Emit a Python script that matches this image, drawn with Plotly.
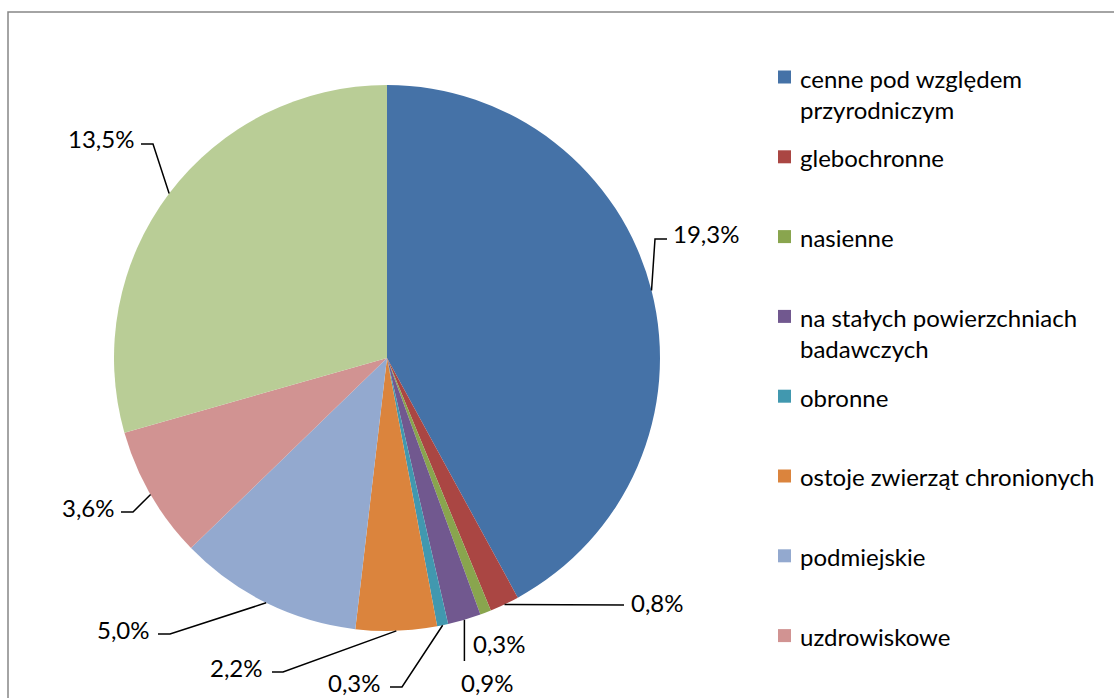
import math
import plotly.graph_objects as go

# Forest categories and their shares (%)
categories = [
    "cenne pod względem<br>przyrodniczym",
    "glebochronne",
    "nasienne",
    "na stałych powierzchniach<br>badawczych",
    "obronne",
    "ostoje zwierząt chronionych",
    "podmiejskie",
    "uzdrowiskowe",
    "wodochronne",
]
shares = [19.3, 0.8, 0.3, 0.9, 0.3, 2.2, 5.0, 3.6, 13.5]
colors = ["#4572A7", "#AA4643", "#89A54E", "#71588F", "#4198AF",
          "#DB843D", "#93A9CF", "#D19392", "#B9CD96"]

W, H = 1114, 698
FONT = "Lato"
FS = 24

# pie geometry in pixels
CX, CY, R = 387, 358, 273


def px(x, y):
    return x / W, 1 - y / H


def pct(v):
    return f"{v:.1f}%".replace(".", ",")


fig = go.Figure(go.Pie(
    labels=[c.replace("<br>", " ") for c in categories],
    values=shares,
    sort=False,
    direction="clockwise",
    rotation=0,
    marker=dict(colors=colors, line=dict(width=0)),
    textinfo="none",
    hoverinfo="label+value",
    showlegend=False,
    domain=dict(x=[(CX - R) / W, (CX + R) / W],
                y=[1 - (CY + R) / H, 1 - (CY - R) / H]),
))

# leader-line bends and label anchors for each slice (pixels)
label_layout = [
    dict(path=[(655, 239), (667, 239)], text=(671, 233), anchor="left"),
    dict(path=[(624, 605)], text=(629, 602), anchor="left"),
    dict(path=None, text=(471, 643), anchor="left"),
    dict(path=[(465, 661)], text=(487, 682), anchor="center", from_x=True),
    dict(path=[(402, 687), (390, 687)], text=(383, 682), anchor="right"),
    dict(path=[(283, 672), (272, 672)], text=(265, 667), anchor="right"),
    dict(path=[(170, 634), (158, 634)], text=(152, 629), anchor="right"),
    dict(path=[(133, 512), (121, 512)], text=(117, 507), anchor="right"),
    dict(path=[(153, 144), (141, 144)], text=(136, 139), anchor="right"),
]

shapes = []
annotations = []
total = sum(shares)
cum = 0.0
for v, lay in zip(shares, label_layout):
    mid = (cum + v / 2) / total * 2 * math.pi
    cum += v
    ax = CX + R * math.sin(mid)
    ay = CY - R * math.cos(mid)
    if lay["path"]:
        pts = [(ax, ay)] + list(lay["path"])
        if lay.get("from_x"):
            pts[1] = (ax, pts[1][1])
        d = "M " + " L ".join(f"{px(x, y)[0]},{px(x, y)[1]}" for x, y in pts)
        shapes.append(dict(type="path", path=d, xref="paper", yref="paper",
                           line=dict(color="black", width=1.5)))
    tx, ty = px(*lay["text"])
    annotations.append(dict(x=tx, y=ty, xref="paper", yref="paper",
                            text=pct(v), showarrow=False,
                            xanchor=lay["anchor"], yanchor="middle",
                            font=dict(family=FONT, size=FS, color="black")))

# legend drawn as swatches + labels; entries below the chart edge are clipped
LEG_Y0, LEG_STEP, LINE_H = 78, 79.8, 31
for i, (name, col) in enumerate(zip(categories, colors)):
    yc = LEG_Y0 + LEG_STEP * i
    if yc + LINE_H / 2 > H:
        break
    x0, y0 = px(778, yc - 7.5)
    x1, y1 = px(791, yc + 5.5)
    shapes.append(dict(type="rect", xref="paper", yref="paper",
                       x0=x0, x1=x1, y0=y0, y1=y1,
                       fillcolor=col, line=dict(width=0)))
    tx, ty = px(798, yc - LINE_H / 2 - 1)
    annotations.append(dict(x=tx, y=ty, xref="paper", yref="paper",
                            text=name, showarrow=False, align="left",
                            xanchor="left", yanchor="top",
                            font=dict(family=FONT, size=FS, color="black")))

# chart area frame
fx0, fy0 = px(8, 12)
shapes.append(dict(type="rect", xref="paper", yref="paper",
                   x0=fx0, y0=-0.05, x1=1.05, y1=fy0,
                   line=dict(color="#868686", width=1.5),
                   fillcolor="rgba(0,0,0,0)", layer="below"))

fig.update_layout(
    width=W, height=H,
    margin=dict(l=0, r=0, t=0, b=0),
    paper_bgcolor="white",
    plot_bgcolor="white",
    shapes=shapes,
    annotations=annotations,
    font=dict(family=FONT, size=FS),
)

fig.write_html("out.html")
